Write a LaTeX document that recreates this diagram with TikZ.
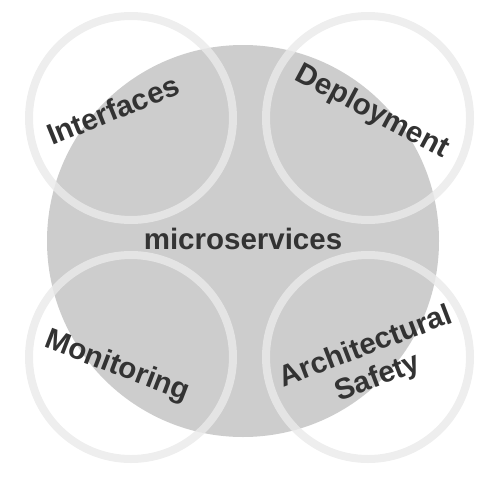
\documentclass[tikz,border=0pt]{standalone}
\usepackage{fontspec}
\setmainfont{Liberation Sans}
\usepackage{tikz}
\usepackage{xcolor}
\definecolor{corefill}{HTML}{CDCDCD}
\definecolor{ringgray}{HTML}{EAEAEA}
\definecolor{textgray}{HTML}{333333}

\begin{document}
\begin{tikzpicture}[x=1pt, y=-1pt,
    ring/.style={draw=ringgray, draw opacity=0.82, line width=8pt},
    area/.style={font=\fontsize{29.5}{33}\selectfont\bfseries, text=textgray, align=center, inner sep=0pt}]
    \useasboundingbox (0,0) rectangle (500,479);

    % Core circle
    \fill[corefill] (243,241) circle (196);

    % Four overlapping rings
    \draw[ring] (131,118) circle (102);
    \draw[ring] (368,118) circle (102);
    \draw[ring] (131,357) circle (102);
    \draw[ring] (368,357) circle (102);

    % Labels
    \node[area] (core) at (243,239) {microservices};
    \node[area, rotate=22] (ifc) at (113,110) {Interfaces};
    \node[area, rotate=-28] (dep) at (372,112) {Deployment};
    \node[area, rotate=-21] (mon) at (117,367) {Monitoring};
    \node[area, rotate=21] (arch) at (372,363) {Architectural\\Safety};
\end{tikzpicture}
\end{document}
